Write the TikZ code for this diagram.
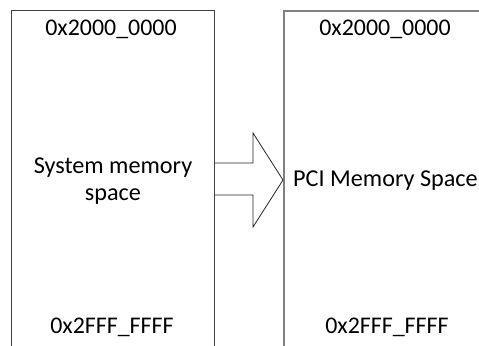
\documentclass[tikz,border=0pt]{standalone}
\usepackage{fontspec}
\setmainfont{Carlito}
\begin{document}
\begin{tikzpicture}[x=1bp,y=-1bp,
  lbl/.style={font=\fontsize{24.3}{27}\selectfont, inner sep=0pt, anchor=base},
  hex/.style={font=\fontsize{24}{27}\selectfont, inner sep=0pt, anchor=base},
  boxline/.style={draw=black!75, line width=1bp},
  rboxline/.style={draw=black!50, line width=1.6bp}]
\useasboundingbox (0,0) rectangle (479,345);
\clip (0,0) rectangle (479,345);
\fill[white] (0,0) rectangle (479,345);
% boxes (extend beyond the frame)
\node[boxline, minimum width=203bp, minimum height=400bp, anchor=north west, inner sep=0pt] (sys) at (11,10) {};
\node[rboxline, minimum width=260bp, minimum height=400bp, anchor=north west, inner sep=0pt] (pci) at (283,10) {};
% labels
\node[hex] (s1) at (111,35) {0x2000\_0000};
\node[hex] (s2) at (112,333) {0x2FFF\_FFFF};
\node[lbl, align=center] (s3) at (113,200) {System memory\\space};
\node[hex] (p1) at (385,35) {0x2000\_0000};
\node[hex] (p2) at (387,333) {0x2FFF\_FFFF};
\node[lbl, anchor=base west] (p3) at (293,186) {PCI Memory Space};
% block arrow
\coordinate (a1) at (sys.east |- 0,163);
\coordinate (a2) at (sys.east |- 0,195);
\coordinate (tip) at (pci.west |- 0,180);
\draw[black!85, line width=0.8bp, line join=miter]
  (a1) -- (253,163) -- (253,133) -- (tip) -- (253,227) -- (253,195) -- (a2);
\end{tikzpicture}
\end{document}
